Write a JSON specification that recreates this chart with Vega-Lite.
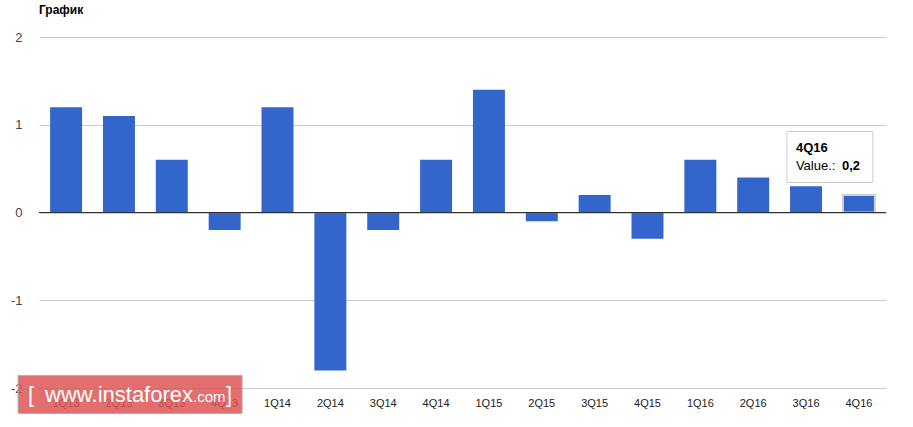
{
  "$schema": "https://vega.github.io/schema/vega-lite/v6.json",
  "width": 847,
  "height": 351,
  "autosize": {"type": "none"},
  "padding": {"left": 39, "top": 37, "right": 27, "bottom": 39},
  "background": "white",
  "title": {"text": "График", "anchor": "start", "frame": "group", "fontSize": 12, "fontWeight": "bold", "font": "Liberation Sans", "color": "#000000", "offset": 5, "baseline": "alphabetic"},
  "config": {"view": {"stroke": null}, "font": "Liberation Sans"},
  "layer": [
    {
      "data": {"values": [
        {"q": "1Q13", "v": 1.2}, {"q": "2Q13", "v": 1.1}, {"q": "3Q13", "v": 0.6}, {"q": "4Q13", "v": -0.2},
        {"q": "1Q14", "v": 1.2}, {"q": "2Q14", "v": -1.8}, {"q": "3Q14", "v": -0.2}, {"q": "4Q14", "v": 0.6},
        {"q": "1Q15", "v": 1.4}, {"q": "2Q15", "v": -0.1}, {"q": "3Q15", "v": 0.2}, {"q": "4Q15", "v": -0.3},
        {"q": "1Q16", "v": 0.6}, {"q": "2Q16", "v": 0.4}, {"q": "3Q16", "v": 0.3}, {"q": "4Q16", "v": 0.2}
      ]},
      "mark": {"type": "bar", "color": "#3366CC", "strokeWidth": 2},
      "encoding": {
        "x": {"field": "q", "type": "nominal", "sort": null,
          "scale": {"domain": ["1Q13","2Q13","3Q13","4Q13","1Q14","2Q14","3Q14","4Q14","1Q15","2Q15","3Q15","4Q15","1Q16","2Q16","3Q16","4Q16"], "paddingInner": 0.395, "paddingOuter": 0.21},
          "axis": {"title": null, "labelAngle": 0, "domain": false, "ticks": false, "labelPadding": 9, "labelFontSize": 11, "labelColor": "#222222", "labelFont": "Liberation Sans"}},
        "y": {"field": "v", "type": "quantitative",
          "scale": {"domain": [-2, 2], "nice": false},
          "axis": {"title": null, "values": [-2, -1, 0, 1, 2], "labelExpr": "datum.value + ''", "domain": false, "ticks": false, "labelPadding": 17, "labelFontSize": 13, "labelColor": "#444444", "gridColor": "#cccccc", "labelFont": "Liberation Sans"}},
        "stroke": {"condition": {"test": "datum.q === '4Q16'", "value": "#d0d0d0"}, "value": null}
      }
    },
    {
      "data": {"values": [{"z": 0}]},
      "mark": {"type": "rule", "color": "#333333", "strokeWidth": 1},
      "encoding": {"y": {"field": "z", "type": "quantitative"}}
    },
    {
      "data": {"values": [{"q": "4Q16", "top": 0.923, "bot": 0.342}]},
      "mark": {"type": "bar", "width": 86, "xOffset": -29, "fill": "white", "stroke": "#cccccc", "strokeWidth": 1},
      "encoding": {
        "x": {"field": "q", "type": "nominal"},
        "y": {"field": "top", "type": "quantitative"},
        "y2": {"field": "bot"}
      }
    },
    {
      "data": {"values": [{"q": "4Q16", "y": 0.684, "t": "4Q16"}]},
      "mark": {"type": "text", "align": "left", "baseline": "alphabetic", "dx": -63, "fontSize": 13, "fontWeight": "bold", "color": "#000000"},
      "encoding": {"x": {"field": "q", "type": "nominal"}, "y": {"field": "y", "type": "quantitative"}, "text": {"field": "t"}}
    },
    {
      "data": {"values": [{"q": "4Q16", "y": 0.479, "t": "Value.:"}]},
      "mark": {"type": "text", "align": "left", "baseline": "alphabetic", "dx": -63, "fontSize": 13, "color": "#000000"},
      "encoding": {"x": {"field": "q", "type": "nominal"}, "y": {"field": "y", "type": "quantitative"}, "text": {"field": "t"}}
    },
    {
      "data": {"values": [{"q": "4Q16", "y": 0.479, "t": "0,2"}]},
      "mark": {"type": "text", "align": "left", "baseline": "alphabetic", "dx": -17, "fontSize": 13, "fontWeight": "bold", "color": "#000000"},
      "encoding": {"x": {"field": "q", "type": "nominal"}, "y": {"field": "y", "type": "quantitative"}, "text": {"field": "t"}}
    },
    {
      "data": {"values": [{"q": "1Q13", "top": -1.857, "bot": -2.29}]},
      "mark": {"type": "bar", "width": 224, "xOffset": 64, "fill": "#dd5555", "fillOpacity": 0.85, "stroke": "#b0b0b0", "strokeWidth": 1},
      "encoding": {
        "x": {"field": "q", "type": "nominal"},
        "y": {"field": "top", "type": "quantitative"},
        "y2": {"field": "bot"}
      }
    },
    {
      "data": {"values": [{"q": "1Q13", "y": -2.165, "t": "["}]},
      "mark": {"type": "text", "align": "left", "baseline": "alphabetic", "dx": -38, "fontSize": 22, "color": "white"},
      "encoding": {"x": {"field": "q", "type": "nominal"}, "y": {"field": "y", "type": "quantitative"}, "text": {"field": "t"}}
    },
    {
      "data": {"values": [{"q": "1Q13", "y": -2.165, "t": "www.instaforex"}]},
      "mark": {"type": "text", "align": "left", "baseline": "alphabetic", "dx": -21, "fontSize": 22, "color": "white"},
      "encoding": {"x": {"field": "q", "type": "nominal"}, "y": {"field": "y", "type": "quantitative"}, "text": {"field": "t"}}
    },
    {
      "data": {"values": [{"q": "1Q13", "y": -2.165, "t": ".com"}]},
      "mark": {"type": "text", "align": "left", "baseline": "alphabetic", "dx": 127, "fontSize": 15, "color": "white"},
      "encoding": {"x": {"field": "q", "type": "nominal"}, "y": {"field": "y", "type": "quantitative"}, "text": {"field": "t"}}
    },
    {
      "data": {"values": [{"q": "1Q13", "y": -2.165, "t": "]"}]},
      "mark": {"type": "text", "align": "left", "baseline": "alphabetic", "dx": 160, "fontSize": 22, "color": "white"},
      "encoding": {"x": {"field": "q", "type": "nominal"}, "y": {"field": "y", "type": "quantitative"}, "text": {"field": "t"}}
    }
  ]
}
